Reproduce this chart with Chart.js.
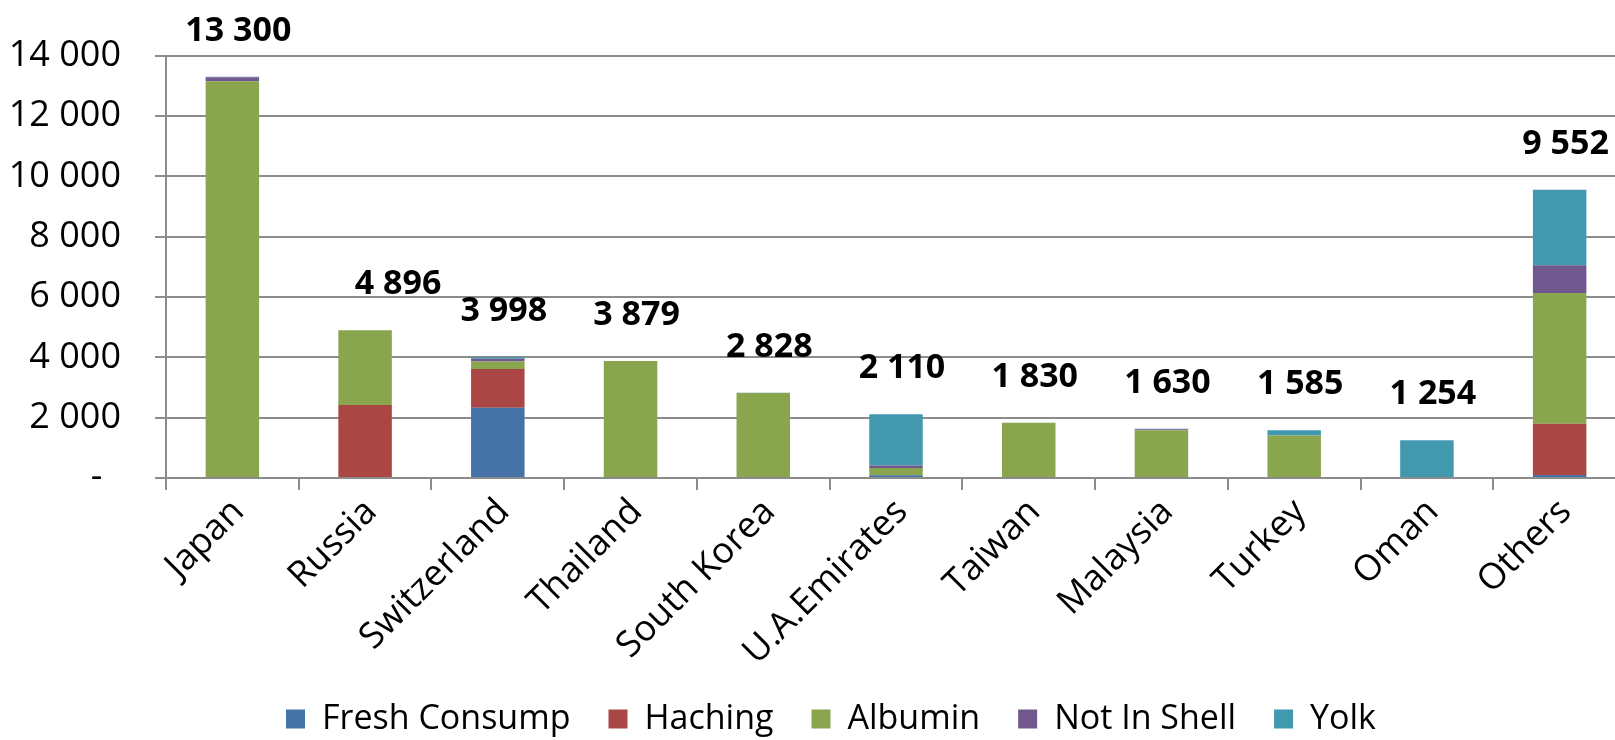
<!DOCTYPE html>
<html>
<head>
<meta charset="utf-8">
<title>Egg exports by destination</title>
<script src="https://cdn.jsdelivr.net/npm/chart.js@4.4.1/dist/chart.umd.min.js"></script>
<style>
  html, body { margin: 0; padding: 0; background: #fff; overflow: hidden; }
  #wrap { width: 1615px; height: 740px; overflow: hidden; position: relative; }
  canvas { display: block; }
</style>
</head>
<body>
<div id="wrap"><canvas id="exports" width="1664" height="746"></canvas></div>
<script>
// destinations and tonnage per product type
const countries = ['Japan', 'Russia', 'Switzerland', 'Thailand', 'South Korea', 'U.A.Emirates', 'Taiwan', 'Malaysia', 'Turkey', 'Oman', 'Others'];
const freshConsump = [0, 0, 2330, 0, 0, 90, 0, 0, 0, 0, 100];
const haching = [0, 2420, 1280, 0, 0, 0, 0, 0, 0, 0, 1700];
const albumin = [13150, 2476, 250, 3879, 2815, 245, 1830, 1585, 1410, 0, 4330];
const notInShell = [130, 0, 90, 0, 0, 80, 0, 30, 0, 0, 920];
const yolk = [20, 0, 48, 0, 13, 1695, 0, 15, 175, 1254, 2502];
const yTicks = [0, 2000, 4000, 6000, 8000, 10000, 12000, 14000];

const series = [
  { label: 'Fresh Consump', data: freshConsump, color: '#4572A7' },
  { label: 'Haching', data: haching, color: '#AA4643' },
  { label: 'Albumin', data: albumin, color: '#89A54E' },
  { label: 'Not In Shell', data: notInShell, color: '#71588F' },
  { label: 'Yolk', data: yolk, color: '#4198AF' },
];

const FONT = '"Open Sans", "Noto Sans", sans-serif';
const AXIS_GREY = '#8c8c8c';

const fmt = v => String(v).replace(/\B(?=(\d{3})+(?!\d))/g, ' ');

// Russia's total sits further right than the rest
const labelShift = { Russia: 33 };

const totalLabels = {
  id: 'totalLabels',
  afterDatasetsDraw(chart) {
    const { ctx } = chart;
    const yScale = chart.scales.y;
    const meta = chart.getDatasetMeta(0);
    ctx.save();
    ctx.font = 'bold 34px ' + FONT;
    ctx.fillStyle = '#000';
    ctx.textAlign = 'center';
    ctx.textBaseline = 'alphabetic';
    countries.forEach((name, i) => {
      const total = series.reduce((sum, s) => sum + s.data[i], 0);
      const x = meta.data[i].x + (labelShift[name] || 6);
      ctx.fillText(fmt(total), x, yScale.getPixelForValue(total) - 36);
    });
    ctx.restore();
  }
};

// slanted country names under the axis; drawn here so they can run
// down past the top of the legend box without being clipped
const countryLabels = {
  id: 'countryLabels',
  afterDraw(chart) {
    const { ctx } = chart;
    const xScale = chart.scales.x;
    ctx.save();
    ctx.font = '36px ' + FONT;
    ctx.fillStyle = '#000';
    ctx.textAlign = 'right';
    ctx.textBaseline = 'middle';
    countries.forEach((name, i) => {
      ctx.save();
      ctx.translate(xScale.getPixelForTick(i) + 6, xScale.top + 28);
      ctx.rotate(-Math.PI / 4);
      ctx.fillText(name, 0, 0);
      ctx.restore();
    });
    ctx.restore();
  }
};

// the legend row sits a little right of the canvas centre
const legendNudge = {
  id: 'legendNudge',
  afterLayout(chart) {
    chart.legend.left += 18;
    chart.legend.right += 18;
  }
};

new Chart(document.getElementById('exports'), {
  type: 'bar',
  data: {
    labels: countries,
    datasets: series.map(s => ({
      label: s.label,
      data: s.data,
      backgroundColor: s.color,
      borderWidth: 0,
      barPercentage: 0.403,
      categoryPercentage: 1,
    })),
  },
  options: {
    responsive: false,
    devicePixelRatio: 1,
    animation: false,
    layout: { padding: { top: 52, right: 38, left: 0, bottom: 0 } },
    plugins: {
      tooltip: { enabled: false },
      legend: {
        position: 'bottom',
        labels: {
          color: '#000',
          font: { family: FONT, size: 34 },
          boxWidth: 19,
          boxHeight: 19,
          padding: 38,
        },
      },
    },
    scales: {
      x: {
        stacked: true,
        ticks: { display: false },
        grid: { drawOnChartArea: false, color: AXIS_GREY, lineWidth: 2, tickLength: 12 },
        border: { color: AXIS_GREY, width: 2 },
        afterFit(scale) {
          scale.height = scale.chart.height - 478 - scale.chart.legend.height;
        },
      },
      y: {
        stacked: true,
        min: 0,
        max: 14000,
        afterBuildTicks(scale) {
          scale.ticks = yTicks.map(v => ({ value: v }));
        },
        ticks: {
          padding: 34,
          color: '#000',
          font: { family: FONT, size: 36 },
          callback: v => (v === 0 ? '-  ' : fmt(v)),
        },
        grid: { color: AXIS_GREY, lineWidth: 2, tickLength: 11 },
        border: { color: AXIS_GREY, width: 2 },
        afterFit(scale) {
          scale.width = 166;
        },
      },
    },
  },
  plugins: [totalLabels, countryLabels, legendNudge],
});
</script>
</body>
</html>
